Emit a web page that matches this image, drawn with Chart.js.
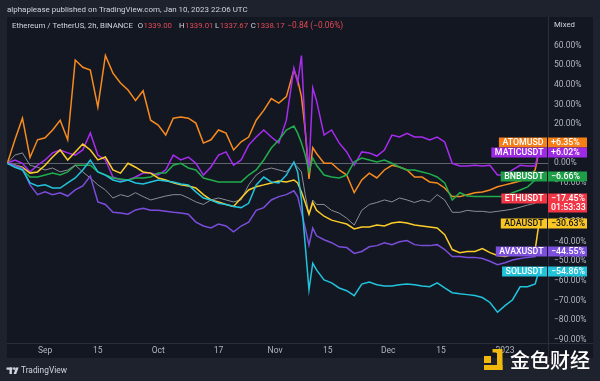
<!DOCTYPE html>
<html><head><meta charset="utf-8">
<script src="https://cdn.jsdelivr.net/npm/chart.js@4/dist/chart.umd.min.js"></script>
<style>html,body{margin:0;padding:0;background:#1e222d;overflow:hidden}</style>
</head><body><canvas id="c" width="600" height="381"></canvas>
<script>
// days counted from Sep 1, 2022
const days = [-10,-8,-6,-4,-2,0,2,4,6,8,10,12,14,16,18,20,22,24,26,28,30,32,34,36,38,40,42,44,46,48,50,52,54,56,58,60,62,64,66,
  67,68,69,70,71,72,
  74,76,78,80,82,84,86,88,90,92,94,96,98,100,102,104,106,108,110,112,114,116,118,120,122,124,126,128,130,131];

const atom = [0,12,23,3,12,13,17,22,12,52.7,49,47.6,28.7,55,46,41,37.4,32,37,22,19.5,14.4,23,23.6,23,20.5,10.3,12,17,15.4,6.8,11,13.4,22,27,33,30.7,34,47.6,
  42.5,34,17,-8,8,5,
  0,0,-3.4,-6,-15,-8.5,-5,-7.5,-3.4,-1,-1.9,-3.4,-7,-7,-9.5,-10,-12.6,-17,-17,-16,-15,-14.6,-13.6,-12,-11,-10,-9,-7.5,-3.4,6.35];
const matic = [0,1.7,0,-4.4,-1,1.7,5.3,6.8,5.3,4.2,6.8,15.5,4.2,1.7,-7,-8.5,-8.5,-7,-5,-5,-6,-3.4,4.2,1.7,3.2,0,-6,-1.9,4.2,5.8,-1,1.7,9.3,13.4,17,13.4,10.4,22,48.6,
  41,55,17,-3.4,38.4,32,
  14.4,17,10.4,5.8,-1,5.8,5.3,3.7,6.8,14.4,13.4,15.3,13.4,13.4,11.9,13.4,10.9,0,-1.4,-1.4,-1,-1.4,-1,-6,-6,-3.4,-1,-1.4,-1.4,6.02];
const bnb = [0,-1,-3.4,-7,-7,-6,-5,-6,-4.4,-1,-1,-1,-4.4,-6,-7.5,-8,-8.5,-7.5,-7.5,-7,-5,-5,-1,0,-2.4,-3.4,-7.5,-8.5,-9.5,-9.5,-9.5,-9.5,-6,-3.4,1.7,7.8,11.9,17,19,
  15.4,10.4,4.2,-4.4,2.7,-1,
  -6,-7,-7.5,-6,0.7,2.7,1.7,0.7,1.7,0,-1.9,-3.4,-3.4,-4.4,-5.4,-7,-10,-18.7,-15,-16.7,-17,-17,-17,-17,-17,-15,-13.6,-12,-8.5,-6.66];
const eth = [0,4.2,5.3,-1,-2,-3.4,-2.4,-4.4,-3.4,-1,-4.4,-7.5,-11,-13.6,-17.7,-16,-17,-15,-17,-18.7,-17.7,-16.7,-16,-16,-17.7,-19.7,-21,-18.7,-17.7,-18.7,-19.7,-18.7,-11,-6,-3.4,-2.4,-3.4,-4.4,0,
  -2,-4.4,-16,-26,-18.7,-21,
  -21,-24,-25.4,-28,-31.5,-24,-21,-20,-18.7,-19.7,-17.7,-18.7,-20,-18.7,-19.7,-16,-18.7,-25,-25,-24,-24.5,-24.5,-25,-24.5,-24,-23.4,-22.4,-21.3,-20.4,-17.45];
const ada = [0,-1,-2,-5,-4.4,-1,3.2,6.8,1.7,5.8,9.8,6.8,1.7,3.2,-3.4,-5,0,-2,-4.4,-5,-7.5,-8.5,-10,-11,-11.6,-12.6,-16,-18.7,-19.7,-21,-22,-17.7,-13.6,-12,-11,-10,-9,-9.5,-8.5,
  -10,-14.6,-20,-26,-20,-24,
  -27,-29,-30,-31,-33.5,-32.5,-32.5,-31.5,-32,-30.5,-30,-30.5,-31.5,-32,-32.5,-33,-36.4,-44,-45.6,-45,-45,-43.5,-45.6,-47,-47.6,-46.6,-45,-43,-44,-30.63];
const avax = [0,-1,-2.4,-11,-16,-14.6,-16,-15,-16.7,-13.6,-11.6,-6.5,-19.7,-21,-25,-25.4,-26,-23.8,-23,-24,-24,-24.5,-25,-25.4,-26,-30,-32,-33,-31,-32,-35,-32,-30,-24,-22.6,-18.7,-17,-16,-14,
  -17,-25,-33,-41.7,-33,-37,
  -39,-40.5,-42.6,-43,-46,-45,-42.6,-42,-40.5,-41.5,-40,-39.4,-41.5,-42,-42,-41.5,-44,-47.6,-47.6,-48,-48,-48.6,-50,-51.7,-50.7,-49.3,-48.6,-48,-47.6,-44.55];
const sol = [0,-2,-3.4,-10,-11.6,-11,-12.6,-12.6,-10,-7.5,-3.4,1.7,-4.4,-6,-8.5,-9.5,-8.5,-10,-10.6,-9.5,-8.5,-9,-9.5,-10.6,-11,-14.6,-17.7,-18.7,-20.4,-21,-22,-22.6,-20.4,-11,-7,-9.5,-10,-6,0.7,
  -4.4,-18.7,-41.7,-64.6,-51,-54.4,
  -59.5,-61,-63.6,-65,-67.5,-61.6,-60.6,-62,-62.6,-62.6,-62,-61.6,-62,-62.6,-63,-61,-63.6,-66,-66.6,-67,-67.5,-68.5,-71,-76,-72.6,-69.6,-63,-63,-61.6,-54.86];

const tickDays = [0,14,30,46,61,75,91,105,122];
const tickLabels = ['Sep','15','Oct','17','Nov','15','Dec','15','2023'];
const yTicks = [60,50,40,30,20,10,0,-10,-20,-30,-40,-50,-60,-70,-80,-90];

const seriesNames = ['SOLUSDT','AVAXUSDT','ADAUSDT','ETHUSDT','BNBUSDT','MATICUSDT','ATOMUSD'];
const seriesData = [sol, avax, ada, eth, bnb, matic, atom];
const lineColors = ['#22c3dc','#7b4ddb','#fccd2a','#8a8d96','#21ad4b','#a82cf0','#f78b1f'];
const boxColors  = ['#22c2d8','#7c4fdc','#f9c623','#f23645','#1f9e48','#9e2ae6','#f57f17'];
const boxText    = ['#ffffff','#ffffff','#131722','#ffffff','#ffffff','#ffffff','#ffffff'];

const MINUS = '\u2212';
function fmtPct(v, sign){
  const s = Math.abs(v).toFixed(2) + '%';
  if (v < 0) return MINUS + s;
  return (sign && v > 0 ? '+' : '') + s;
}
const FONT = 'Roboto, "Liberation Sans", sans-serif';

function fitText(ctx, text, x, y, w, size, color, weight){
  ctx.font = (weight||'normal') + ' ' + size + 'px ' + FONT;
  const m = ctx.measureText(text).width;
  const s = size * w / m;
  ctx.font = (weight||'normal') + ' ' + s.toFixed(2) + 'px ' + FONT;
  ctx.fillStyle = color;
  ctx.fillText(text, x, y);
}

const decor = {
  id: 'decor',
  beforeDraw(chart){
    const ctx = chart.ctx;
    ctx.save();
    ctx.fillStyle = '#1e222d';
    ctx.fillRect(0,0,600,381);
    ctx.fillStyle = '#131722';
    ctx.fillRect(7,17,586,341);
    ctx.restore();
  },
  afterDraw(chart){
    const ctx = chart.ctx;
    const ys = chart.scales.y;
    ctx.save();
    ctx.fillStyle = '#131722';
    ctx.fillRect(549,344,44,14);
    ctx.strokeStyle = '#2a2e39';
    ctx.lineWidth = 1;
    ctx.beginPath();
    ctx.moveTo(548.5,17); ctx.lineTo(548.5,358);
    ctx.moveTo(7,343.5); ctx.lineTo(593,343.5);
    ctx.stroke();

    ctx.textBaseline = 'middle';
    ctx.textAlign = 'left';
    fitText(ctx, 'alphaplease published on TradingView.com, Jan 10, 2023 22:06 UTC', 7, 10, 241, 8.5, '#d1d4dc');
    fitText(ctx, 'Ethereum / TetherUS, 2h, BINANCE', 12, 26, 121, 8, '#d1d4dc');
    const ohlc = [['O','1339.00',137.7],['H','1339.01',179],['L','1337.67',215],['C','1338.17',250.7]];
    ctx.font = '7.8px ' + FONT;
    for (const [k,v,x] of ohlc){
      ctx.fillStyle = '#d1d4dc'; ctx.fillText(k, x, 26);
      const kw = ctx.measureText(k).width;
      ctx.fillStyle = '#e04b56'; ctx.fillText(v, x+kw+0.5, 26);
    }
    fitText(ctx, MINUS+'0.84 ('+MINUS+'0.06%)', 287.3, 26, 56, 8, '#e04b56');
    fitText(ctx, 'Mixed', 554, 25, 21, 8, '#d1d4dc');

    const items = seriesNames.map((n,i)=>{
      const arr = seriesData[i];
      const v = arr[arr.length-1];
      return {i, name:n, v, y: ys.getPixelForValue(v)};
    });
    items.sort((a,b)=>a.y-b.y);
    const H = 10;
    for (let k = items.length-2; k >= 0; k--){
      if (items[k].y > items[k+1].y - H) items[k].y = items[k+1].y - H;
    }
    ctx.font = '500 8.8px ' + FONT;
    for (const it of items){
      const yc = Math.round(it.y) + 0.5;
      const tw = ctx.measureText(it.name).width;
      const bx = 547 - tw - 7;
      const isEth = it.name === 'ETHUSDT';
      ctx.fillStyle = boxColors[it.i];
      ctx.fillRect(bx, yc-H/2, 547-bx, H);
      ctx.fillRect(548, yc-H/2, 39, isEth ? 2*H-1 : H);
      ctx.fillStyle = boxText[it.i];
      ctx.fillText(it.name, bx+3.5, yc+0.5);
      ctx.fillText(fmtPct(it.v, true), 551, yc+0.5);
      if (isEth) ctx.fillText('01:53:33', 551, yc+H-0.5);
    }

    ctx.fillStyle = '#d1d4dc';
    ctx.fillRect(6.5,367.5,6,2.2);
    ctx.fillRect(9.5,367.5,2.4,6.5);
    ctx.beginPath(); ctx.arc(14.3,368.6,1.3,0,Math.PI*2); ctx.fill();
    ctx.beginPath(); ctx.moveTo(16,367.5); ctx.lineTo(18.6,367.5); ctx.lineTo(16.2,374); ctx.lineTo(13.6,374); ctx.closePath(); ctx.fill();
    fitText(ctx, 'TradingView', 21, 371, 46, 9.5, '#d1d4dc');

    ctx.fillStyle = '#f0b90b';
    ctx.fillRect(484,356,7,7);
    ctx.fillRect(492.5,349,5,3.5);
    ctx.fillRect(497,349,5.5,21);
    ctx.fillRect(484,365,18.5,5);
    ctx.font = '500 20px "Noto Sans CJK SC", sans-serif';
    ctx.fillStyle = '#ffffff';
    ctx.textBaseline = 'middle';
    ctx.fillText('金色财经', 510, 360);
    ctx.restore();
  }
};

const datasets = seriesNames.map((n,i)=>({
  label: n,
  data: days.map((d,k)=>({x:d, y:seriesData[i][k]})),
  borderColor: lineColors[i],
  borderWidth: n === 'ETHUSDT' ? 1 : 1.5,
  pointRadius: 0,
  tension: 0,
  fill: false
}));

new Chart(document.getElementById('c'), {
  type: 'line',
  data: { datasets },
  options: {
    responsive: false,
    animation: false,
    devicePixelRatio: 1,
    layout: { padding: { left: 7, top: 17, right: 7, bottom: 23 } },
    plugins: { legend: { display: false }, tooltip: { enabled: false } },
    scales: {
      x: {
        type: 'linear', position: 'bottom', min: -10.1, max: 133.4,
        grid: { display: false, drawTicks: false },
        border: { display: false },
        afterBuildTicks: s => { s.ticks = tickDays.map(v=>({value:v})); },
        afterFit: s => { s.height = 15; },
        ticks: {
          autoSkip: false, maxRotation: 0, padding: 3,
          color: '#b2b5be', font: { size: 8.5, family: FONT },
          callback: v => { const k = tickDays.indexOf(v); return k >= 0 ? tickLabels[k] : ''; }
        }
      },
      y: {
        type: 'linear', position: 'right', min: -91.68, max: 74.64,
        grid: { drawTicks: false, lineWidth: 1, color: c => (c.tick && c.tick.value === 0) ? '#62656f' : 'rgba(0,0,0,0)' },
        border: { display: false },
        afterBuildTicks: s => { s.ticks = yTicks.map(v=>({value:v})); },
        afterFit: s => { s.width = 45; },
        ticks: {
          padding: 6, align: 'center', crossAlign: 'near',
          color: '#b2b5be', font: { size: 8.5, family: FONT },
          callback: v => fmtPct(v, false)
        }
      }
    }
  },
  plugins: [decor]
});
</script>
</body></html>
